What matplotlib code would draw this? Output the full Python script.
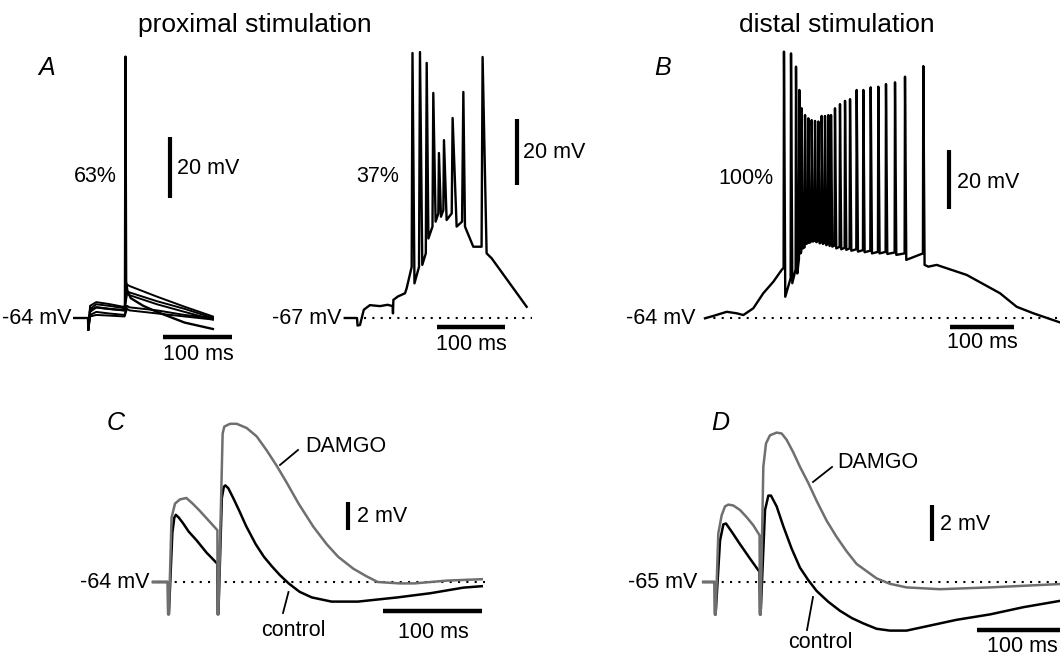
import matplotlib
matplotlib.use("Agg")
import matplotlib.pyplot as plt

plt.rcParams['font.family'] = ['Liberation Sans', 'DejaVu Sans']

# ---------------- data (ms, mV) ----------------
# Panel A left: superimposed traces (proximal stimulation, 63% no burst)
tAl = [-20, 0, 0.5, 3, 12, 30, 53, 56.5, 60, 100, 140, 181]
vAl_a = [-64, -64, -67.9, -60.0, -58.8, -59.4, -60.4, -53.0, -53.5, -57.0, -60.3, -63.5]
vAl_b = [-64, -64, -67.9, -61.0, -59.5, -60.0, -60.8, -55.2, -55.6, -58.5, -61.0, -64.0]
vAl_c = [-64, -64, -67.9, -62.0, -60.5, -61.0, -61.5, -56.0, -56.5, -59.5, -62.0, -64.5]
vAl_d = [-64, -64, -67.9, -63.0, -62.0, -62.5, -63.0, -60.0, -60.5, -61.5, -63.0, -64.0]
vAl_e = [-64, -64, -67.9, -63.5, -63.0, -63.2, -63.5, -61.0, -61.5, -62.5, -63.5, -64.5]
tAl_spk = [-20, 0, 0.5, 3, 12, 30, 53.5, 54.3, 55.3, 57, 62, 80, 100, 140, 181]
vAl_spk = [-64, -64, -67.9, -61.5, -60.5, -61.0, -61.5, 21.7, -52.0, -55.0, -57.5, -60.0, -62.0, -65.5, -67.6]

# Panel A right: burst (37%)
tAr = [-18, 0, 0.8, 4.4, 10, 19, 33.8, 45, 52.5, 52.9, 53.5, 60, 70.6, 73, 80.4,
       81.6, 84.5, 91.2, 92.6, 96, 101.2, 102.5, 105, 111.0, 112.2, 115.6, 119.6, 120.5, 123.5,
       127.0, 127.9, 131.8, 139.3, 140.6, 146.5, 154.5, 156.4, 158.8, 171, 183.2, 184.7, 190.6,
       198, 249.5]
vAr = [-67, -67, -69.3, -69.1, -64.5, -63.1, -63.4, -63.0, -63.4, -65.6, -61.5, -60.5, -59.5, -58.0, -51.5,
       13.3, -56.5, -51.5, 13.6, -50.9, -47.4, 10.3, -42.9, -39.3, 1.2, -37.8, -35.3, -17.0, -36.3,
       -34.3, -13.1, -37.3, -35.3, -6.4, -39.3, -37.8, 1.5, -39.3, -45.4, -45.4, 12.1, -47.4,
       -48.9, -63.6]

# Panel B: distal stimulation, 100%
tB_pre = [0, 13, 33.9, 49.5, 59.9, 75.5, 91.1, 106.8, 119.8]
vB_pre = [-64.1, -63.3, -61.9, -62.4, -63.0, -60.7, -55.6, -51.7, -47.7]
tB_spk = [123.4, 134.4, 142.2, 147.4, 151.0, 156.3, 161.5, 166.7, 171.9, 177.1, 182.3, 187.5, 192.7,
          196.9, 203.1, 210.9, 218.8, 226.6, 237.0, 247.4, 258.9, 270.8, 282.8, 296.9, 312.5, 341.1]
vB_th = [-47.0, -50.5, -47.5, -44.0, -41.5, -40.0, -38.5, -38.0, -37.7, -37.9, -38.3, -38.5, -38.9,
         -39.2, -39.4, -39.9, -40.2, -40.4, -40.7, -41.0, -41.2, -41.6, -41.6, -41.8, -42.1, -42.1]
vB_pk = [26.3, 25.7, 21.2, 13.3, 7.1, 4.8, 3.7, 3.1, 2.8, 2.6, 4.5, 4.5, 4.8,
         4.8, 7.1, 8.5, 9.6, 10.2, 13.3, 13.3, 14.2, 14.4, 15.3, 15.9, 17.8, 21.4]
vB_tr = [-56.8, -52.2, -48.9, -42.1, -40.4, -38.9, -38.5, -38.1, -38.3, -38.7, -38.9, -39.3, -39.6,
         -39.8, -40.4, -40.7, -40.9, -41.2, -41.5, -41.7, -42.1, -42.1, -42.3, -42.6, -44.3, -46.0]
tB_post = [349.0, 362.0, 408.9, 460.9, 487.0, 513.0, 556.0]
vB_post = [-46.6, -46.0, -49.4, -55.6, -60.2, -62.4, -65.6]

# Panel C: proximal, control vs DAMGO
tC_d = [-4, 11.0, 11.3, 12.0, 14.7, 18.2, 23.2, 29.7, 36, 43, 52, 61.0, 61.3, 62.0, 66.3, 68, 73.7,
        80.5, 90.6, 100.7, 110.8, 120.9, 131, 143, 157.9, 171.4, 183, 198.3, 211.8, 223, 245, 260,
        293, 328]
vC_d = [-64, -64, -66.3, -66.3, -59.4, -58.4, -58.1, -58.0, -58.4, -58.9, -59.6, -60.3, -66.3, -66.3,
        -53.4, -52.9, -52.7, -52.7, -53.0, -53.6, -54.6, -55.7, -56.9, -58.4, -60.05, -61.3, -62.2,
        -63.05, -63.6, -64.0, -64.1, -64.1, -63.9, -63.8]
tC_c = [-4, 11.0, 11.3, 12.0, 15.5, 17.5, 19, 22, 26.3, 32, 39.7, 50, 61.0, 61.3, 62.0, 65.5, 67.5,
        69, 72, 77, 83, 90, 99.7, 108, 116.3, 124, 133, 144, 156.3, 176.3, 203, 243, 276.3, 309.7, 328]
vC_c = [-64, -64, -66.3, -66.3, -60.5, -59.4, -59.2, -59.4, -59.8, -60.4, -61.0, -61.9, -62.7, -66.3,
        -66.3, -58.0, -57.2, -57.1, -57.3, -58.0, -58.9, -60.0, -61.3, -62.2, -62.9, -63.5, -64.1,
        -64.7, -65.1, -65.4, -65.4, -65.1, -64.8, -64.4, -64.3]

# Panel D: distal, control vs DAMGO
tD_d = [-2, 10.8, 11.1, 11.8, 14.8, 18.5, 22.2, 25.9, 31.5, 38.9, 46.3, 53.7, 59.3, 60.6, 61.1,
        61.8, 64.8, 67.8, 72.2, 79.6, 85.2, 90.7, 98.1, 105.5, 114.8, 124.1, 135.2, 146.3, 157.4,
        168.5, 179.6, 190.7, 205.5, 224, 261, 316.7, 400]
vD_d = [-65, -65, -66.8, -66.8, -62.3, -61.3, -60.8, -60.7, -60.75, -61.0, -61.4, -61.85, -62.3,
        -62.4, -66.8, -66.8, -58.6, -57.3, -56.85, -56.7, -56.75, -57.1, -57.8, -58.6, -59.5, -60.5,
        -61.6, -62.5, -63.3, -64.0, -64.4, -64.8, -65.1, -65.3, -65.4, -65.3, -65.1]
tD_c = [-2, 10.8, 11.1, 11.8, 16.7, 20.4, 23.3, 29.6, 38.9, 50, 59.3, 60.6, 61.1, 61.8, 66.7, 70.4,
        73.3, 79.6, 87, 96.3, 105.5, 114.8, 124.1, 137, 150, 163, 175.9, 190.7, 205.5, 224, 242.6,
        279.6, 316.7, 353.7, 400]
vD_c = [-65, -65, -66.8, -66.8, -62.7, -61.8, -61.75, -62.2, -62.9, -63.7, -64.35, -64.4, -66.8,
        -66.8, -61.0, -60.2, -60.2, -60.8, -61.9, -63.15, -64.2, -64.9, -65.5, -66.1, -66.6, -67.0,
        -67.3, -67.6, -67.7, -67.7, -67.5, -67.1, -66.8, -66.4, -66.0]

# ---------------- figure ----------------
W, H = 1060, 658
fig = plt.figure(figsize=(W / 100, H / 100), dpi=100)
GRAY = '#6f6f6f'


def panel(x0, y0, t0, v0, sx, sy):
    """Full-figure transparent axes: time t0 at pixel x0, voltage v0 at pixel y0."""
    ax = fig.add_axes([0, 0, 1, 1])
    ax.set_axis_off()
    ax.patch.set_alpha(0)
    ax.set_xlim(t0 - x0 / sx, t0 + (W - x0) / sx)
    ax.set_ylim(v0 - (H - y0) / sy, v0 + y0 / sy)
    return ax


def scalebars(ax, tx, vy0, dv, th0, vh, dt):
    ax.plot([tx, tx], [vy0, vy0 + dv], color='k', lw=3.0, solid_capstyle='butt')
    ax.plot([th0, th0 + dt], [vh, vh], color='k', lw=3.2, solid_capstyle='butt')


def dotted(ax, t0, t1, v):
    ax.plot([t0, t1], [v, v], color='k', lw=1.5, ls=(0, (1, 3)))


# Panel A left
axAl = panel(88, 318, 0, -64, 0.69, 3.05)
for vv in (vAl_e, vAl_d, vAl_c, vAl_b, vAl_a):
    axAl.plot(tAl, vv, color='k', lw=1.4)
axAl.plot(tAl_spk, vAl_spk, color='k', lw=1.7)
scalebars(axAl, 118.8, -24.7, 20, 108.7, -70.2, 100)

# Panel A right
axAr = panel(357, 318, 0, -67, 0.68, 3.3)
dotted(axAr, 10.3, 257, -67)
axAr.plot(tAr, vAr, color='k', lw=1.7)
scalebars(axAr, 235.3, -26.7, 20, 117.6, -69.7, 100)

# Panel B
axB = panel(705, 318, 0, -64, 0.64, 2.95)
dotted(axB, 0, 560, -64)
tB = list(tB_pre)
vB = list(vB_pre)
for ts, th, pk, tr in zip(tB_spk, vB_th, vB_pk, vB_tr):
    tB += [ts - 0.6, ts, ts + 2.0]
    vB += [th, pk, tr]
tB += tB_post
vB += vB_post
axB.plot(tB, vB, color='k', lw=1.7)
scalebars(axB, 381.3, -27.05, 20, 382.8, -67.05, 100)

# Panel C
axC = panel(157, 582, 0, -64, 0.99, 14)
dotted(axC, 1, 331, -64)
axC.plot(tC_c, vC_c, color='k', lw=1.8)
axC.plot(tC_d, vC_d, color=GRAY, lw=1.8)
scalebars(axC, 192.9, -60.29, 2, 228.3, -66.07, 100)

# Panel D
axD = panel(705, 582, 0, -65, 0.9, 18)
dotted(axD, 0, 400, -65)
axD.plot(tD_c, vD_c, color='k', lw=1.8)
axD.plot(tD_d, vD_d, color=GRAY, lw=1.8)
scalebars(axD, 252.2, -62.72, 2, 302.2, -67.67, 100)

# ---------------- annotation overlay (pixel coords) ----------------
ov = fig.add_axes([0, 0, 1, 1])
ov.set_axis_off()
ov.patch.set_alpha(0)
ov.set_xlim(0, W)
ov.set_ylim(H, 0)

FS = 15.5
ov.text(255, 25, 'proximal stimulation', fontsize=19, ha='center', va='center')
ov.text(836.5, 25, 'distal stimulation', fontsize=19, ha='center', va='center')
for lab, x, y in (('A', 47, 68), ('B', 663, 68), ('C', 116, 423), ('D', 720, 423)):
    ov.text(x, y, lab, fontsize=18, style='italic', ha='center', va='center')

ov.text(95, 177, '63%', fontsize=FS, ha='center', va='center')
ov.text(378, 176, '37%', fontsize=FS, ha='center', va='center')
ov.text(746, 178, '100%', fontsize=FS, ha='center', va='center')

ov.text(177, 169, '20 mV', fontsize=FS, ha='left', va='center')
ov.text(523, 153, '20 mV', fontsize=FS, ha='left', va='center')
ov.text(957, 182, '20 mV', fontsize=FS, ha='left', va='center')
ov.text(357, 517, '2 mV', fontsize=FS, ha='left', va='center')
ov.text(940, 525, '2 mV', fontsize=FS, ha='left', va='center')

ov.text(198, 355, '100 ms', fontsize=FS, ha='center', va='center')
ov.text(471, 345, '100 ms', fontsize=FS, ha='center', va='center')
ov.text(982, 343, '100 ms', fontsize=FS, ha='center', va='center')
ov.text(433, 632, '100 ms', fontsize=FS, ha='center', va='center')
ov.text(987, 646, '100 ms', fontsize=FS, ha='left', va='center')

ov.text(72, 318, '-64 mV', fontsize=FS, ha='right', va='center')
ov.text(341, 318, '-67 mV', fontsize=FS, ha='right', va='center')
ov.text(695, 318, '-64 mV', fontsize=FS, ha='right', va='center')
ov.text(150, 582, '-64 mV', fontsize=FS, ha='right', va='center')
ov.text(697, 582, '-65 mV', fontsize=FS, ha='right', va='center')

ov.text(305, 447, 'DAMGO', fontsize=FS, ha='left', va='center')
ov.plot([280, 298], [465, 450], color='k', lw=1.3)
ov.text(293, 630, 'control', fontsize=FS, ha='center', va='center')
ov.plot([283, 288.5], [613, 592], color='k', lw=1.3)
ov.text(837, 462, 'DAMGO', fontsize=FS, ha='left', va='center')
ov.plot([813, 832], [482, 467], color='k', lw=1.3)
ov.text(820, 643, 'control', fontsize=FS, ha='center', va='center')
ov.plot([807, 813], [630, 597], color='k', lw=1.3)

fig.savefig('out.png', dpi=100)
